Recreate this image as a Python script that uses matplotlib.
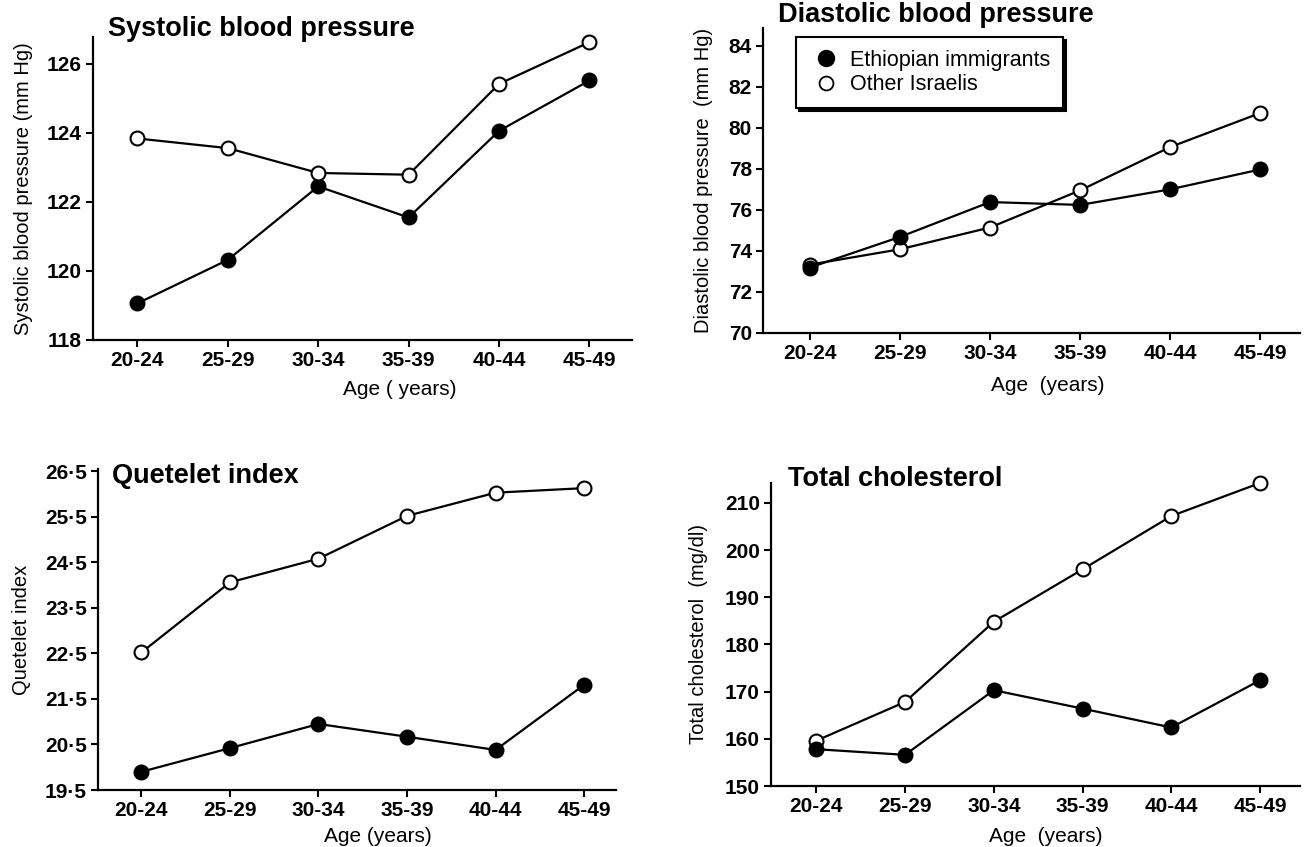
import matplotlib
matplotlib.use("Agg")
import matplotlib.pyplot as plt
from matplotlib.lines import Line2D

plt.rcParams['font.family'] = ['Liberation Sans', 'DejaVu Sans']

age_groups = ["20-24", "25-29", "30-34", "35-39", "40-44", "45-49"]

sbp_ethiopian = [119.06, 120.32, 122.45, 121.55, 124.06, 125.52]
sbp_other = [123.84, 123.56, 122.84, 122.79, 125.42, 126.63]

dbp_ethiopian = [73.19, 74.68, 76.38, 76.24, 77.0, 77.97]
dbp_other = [73.33, 74.08, 75.14, 76.95, 79.06, 80.72]

qi_ethiopian = [19.90, 20.42, 20.95, 20.67, 20.38, 21.81]
qi_other = [22.52, 24.06, 24.58, 25.52, 26.03, 26.13]

chol_ethiopian = [157.8, 156.6, 170.3, 166.4, 162.4, 172.4]
chol_other = [159.6, 167.8, 184.8, 195.9, 207.2, 214.2]

sbp_ticks = [118, 120, 122, 124, 126]
dbp_ticks = [70, 72, 74, 76, 78, 80, 82, 84]
qi_ticks = [19.5, 20.5, 21.5, 22.5, 23.5, 24.5, 25.5, 26.5]
qi_ticklabels = ["19·5", "20·5", "21·5", "22·5", "23·5", "24·5", "25·5", "26·5"]
chol_ticks = [150, 160, 170, 180, 190, 200, 210]

W, H = 1304, 847
fig = plt.figure(figsize=(W / 100, H / 100), dpi=100)


def px_axes(l, t, r, b):
    return fig.add_axes([l / W, 1 - b / H, (r - l) / W, (b - t) / H])


def style(ax, ticks, ticklabels, ylim, xlim, ylabel, xlabel, xlabel_x,
          xpad=7, ypad=9):
    for s in ("top", "right"):
        ax.spines[s].set_visible(False)
    for s in ("left", "bottom"):
        ax.spines[s].set_linewidth(1.6)
    x = range(len(age_groups))
    ax.set_xticks(list(x))
    ax.set_xticklabels(age_groups, fontsize=15, fontweight='bold')
    ax.set_yticks(ticks)
    ax.set_yticklabels(ticklabels if ticklabels else [str(t) for t in ticks],
                       fontsize=15, fontweight='bold')
    ax.tick_params(axis='both', direction='out', length=5, width=1.5, pad=3)
    ax.set_xlim(*xlim)
    ax.set_ylim(*ylim)
    ax.set_ylabel(ylabel, fontsize=14.5, labelpad=ypad)
    ax.set_xlabel(xlabel, fontsize=15, x=xlabel_x, labelpad=xpad)


def plot_series(ax, eth, oth, other_on_top=False):
    x = range(len(age_groups))
    z_o, z_e = (3, 2) if other_on_top else (2, 3)
    ax.plot(x, oth, '-o', color='black', lw=1.6, ms=10, mfc='white',
            mec='black', mew=1.5, zorder=z_o, clip_on=False)
    ax.plot(x, eth, '-o', color='black', lw=1.6, ms=10, mfc='black',
            mec='black', mew=1.5, zorder=z_e, clip_on=False)


def title(x, y, s):
    fig.text(x / W, 1 - y / H, s, fontsize=19.5, fontweight='bold',
             va='baseline', ha='left')


# Panel 1: systolic
ax1 = px_axes(93, 37, 632, 340)
plot_series(ax1, sbp_ethiopian, sbp_other, other_on_top=True)
style(ax1, sbp_ticks, None, (118, 126.78), (-0.49, 5.47),
      "Systolic blood pressure (mm Hg)", "Age ( years)", 0.57, ypad=10)
title(108, 36, "Systolic blood pressure")

# Panel 2: diastolic
ax2 = px_axes(763, 28, 1300, 333)
plot_series(ax2, dbp_ethiopian, dbp_other)
style(ax2, dbp_ticks, None, (70, 84.86), (-0.52, 5.44),
      "Diastolic blood pressure  (mm Hg)", "Age  (years)", 0.53, xpad=9, ypad=11)
title(778, 22, "Diastolic blood pressure")
handles = [
    Line2D([], [], ls='none', marker='o', ms=11, mfc='black', mec='black', mew=1.5),
    Line2D([], [], ls='none', marker='o', ms=10, mfc='white', mec='black', mew=1.3),
]
leg = ax2.legend(handles, ["Ethiopian immigrants", "Other Israelis"],
                 loc='upper left', bbox_to_anchor=(796 / W, 1 - 37 / H),
                 bbox_transform=fig.transFigure, prop={'size': 15.5},
                 frameon=True, fancybox=False, edgecolor='black',
                 handletextpad=0.3, borderpad=0.6, labelspacing=0.15,
                 handlelength=1.6, borderaxespad=0,
                 shadow={'color': 'black', 'alpha': 1})
leg.get_frame().set_linewidth(1.5)

# Panel 3: Quetelet
ax3 = px_axes(98, 469, 616, 790)
plot_series(ax3, qi_ethiopian, qi_other)
style(ax3, qi_ticks, qi_ticklabels, (19.5, 26.55), (-0.49, 5.36),
      "Quetelet index", "Age (years)", 0.54, xpad=5, ypad=10)
title(112, 483, "Quetelet index")

# Panel 4: cholesterol
ax4 = px_axes(771, 483, 1300, 786)
plot_series(ax4, chol_ethiopian, chol_other)
style(ax4, chol_ticks, None, (150, 214.2), (-0.51, 5.45),
      "Total cholesterol  (mg/dl)", "Age  (years)", 0.52, xpad=8, ypad=12)
title(788, 486, "Total cholesterol")

fig.savefig("out.png", dpi=100)
